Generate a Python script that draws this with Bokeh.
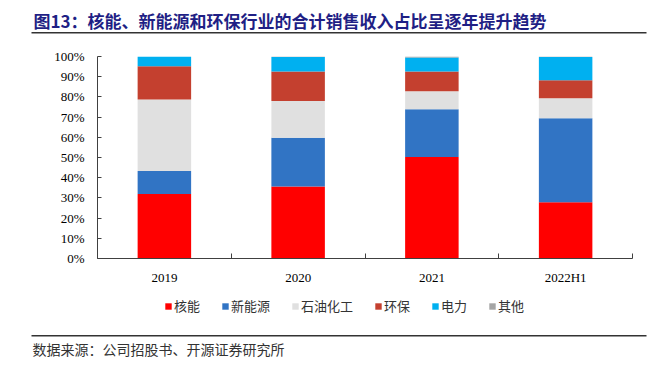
from bokeh.plotting import figure
from bokeh.layouts import column
from bokeh.models import (Range1d, FixedTicker, NumeralTickFormatter, Label,
                          BoxAnnotation, Legend)
from bokeh.embed import file_html
from bokeh.resources import INLINE

categories = ["2019", "2020", "2021", "2022H1"]
series_names = ["核能", "新能源", "石油化工", "环保", "电力", "其他"]
nuclear = [31.9, 35.7, 50.3, 27.8]
new_energy = [11.4, 24.1, 23.6, 41.6]
petrochem = [35.4, 18.2, 8.9, 9.9]
environment = [16.5, 14.6, 9.8, 9.0]
power = [4.8, 7.1, 6.9, 11.4]
other = [0.0, 0.3, 0.5, 0.3]
y_ticks = [i / 10 for i in range(11)]
colors = ["#FF0000", "#3174C4", "#E0E0E0", "#C4402F", "#00B0F0", "#A5A5A5"]

title_text = "图13：核能、新能源和环保行业的合计销售收入占比呈逐年提升趋势"
source_text = "数据来源：公司招股书、开源证券研究所"

CJK = "Noto Sans CJK SC"
SERIF = "Liberation Serif"
W = 659


def blank(height, x_range=None, y_range=None):
    f = figure(width=W, height=height, output_backend="svg", toolbar_location=None,
               x_range=x_range or Range1d(0, W),
               y_range=y_range or Range1d(height, 0),
               x_axis_type=None, y_axis_type=None, min_border=0,
               frame_align=False)
    f.outline_line_color = None
    f.grid.visible = False
    return f


# header
top = blank(40)
top.add_layout(Label(x=33, y=20, text=title_text, text_font=CJK,
                     text_font_size="17px", text_font_style="bold",
                     text_color="#1F1F85", text_baseline="middle"))
top.add_layout(BoxAnnotation(left=31, right=646, top=31.5, bottom=33,
                             fill_color="#333333", fill_alpha=1, line_color=None))

# main chart
xs = [i + 0.5 for i in range(len(categories))]
data = {"x": xs}
for name, vals in zip(series_names, [nuclear, new_energy, petrochem, environment, power, other]):
    data[name] = [v / 100 for v in vals]

p = figure(width=W, height=250, output_backend="svg", toolbar_location=None,
           x_range=Range1d(0, len(categories)), y_range=Range1d(0, 1),
           min_border_left=97, min_border_right=27, min_border_top=16,
           min_border_bottom=32, frame_align=False)
p.outline_line_color = None
p.grid.visible = False

p.vbar_stack(series_names, x="x", width=0.4, source=data,
             color=colors, line_color=None)

ya = p.yaxis[0]
ya.ticker = FixedTicker(ticks=y_ticks)
ya.formatter = NumeralTickFormatter(format="0%")
ya.axis_line_color = "#404040"
ya.major_tick_line_color = "#404040"
ya.major_tick_in = 4
ya.major_tick_out = 0
ya.minor_tick_line_color = None
ya.major_label_standoff = 13
ya.major_label_text_font = SERIF
ya.major_label_text_font_size = "13px"
ya.major_label_text_color = "#000000"

xa = p.xaxis[0]
xa.ticker = FixedTicker(ticks=xs, minor_ticks=list(range(len(categories) + 1)))
xa.major_label_overrides = {x: c for x, c in zip(xs, categories)}
xa.axis_line_color = "#404040"
xa.major_tick_line_color = None
xa.minor_tick_line_color = "#404040"
xa.minor_tick_in = 5
xa.minor_tick_out = 0
xa.major_label_standoff = 5
xa.major_label_text_font = SERIF
xa.major_label_text_font_size = "13px"
xa.major_label_text_color = "#000000"

# legend strip (its stacked bars lie outside the visible range; only the key shows)
leg_fig = blank(35, x_range=Range1d(0, len(categories)), y_range=Range1d(10, 11))
leg_renderers = leg_fig.vbar_stack(series_names, x="x", width=0.4, source=data,
                                   color=colors, line_color=None)
legend = Legend(items=[(n, [r]) for n, r in zip(series_names, leg_renderers)],
                orientation="horizontal", location=(164, 10),
                glyph_width=8, glyph_height=8, label_standoff=2, spacing=21,
                padding=0, margin=0, border_line_color=None,
                background_fill_alpha=0,
                label_text_font=CJK, label_text_font_size="13px",
                label_text_color="#333333", label_height=14)
leg_fig.add_layout(legend, "center")

# footer
bottom = blank(42)
bottom.add_layout(BoxAnnotation(left=31, right=646, top=9.5, bottom=11,
                                fill_color="#333333", fill_alpha=1, line_color=None))
bottom.add_layout(Label(x=32, y=23.3, text=source_text, text_font=CJK,
                        text_font_size="14px", text_color="#333333",
                        text_baseline="middle"))

layout = column(top, p, leg_fig, bottom, spacing=0)
open("out.html", "w").write(file_html(layout, INLINE))
